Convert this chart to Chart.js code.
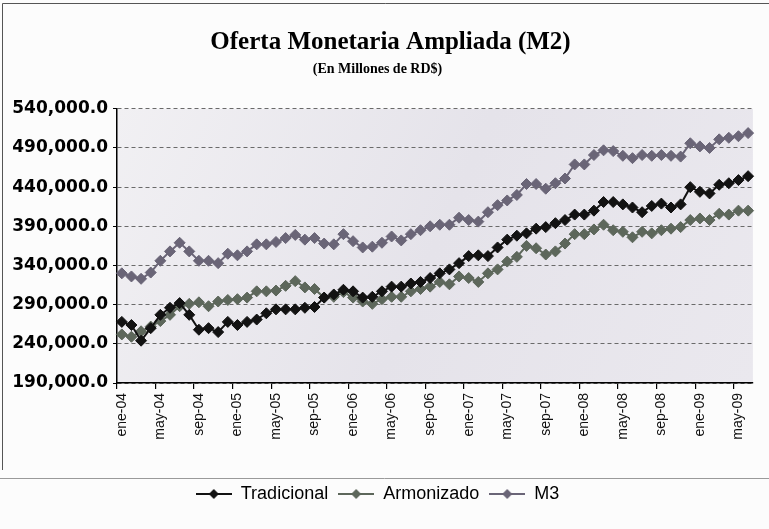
<!DOCTYPE html>
<html>
<head>
<meta charset="utf-8">
<script src="https://cdn.jsdelivr.net/npm/chart.js@4.4.1/dist/chart.umd.min.js"></script>
<style>
html,body{margin:0;padding:0;background:#fcfcfc;}
#wrap{width:769px;height:529px;position:relative;}
</style>
</head>
<body>
<div id="wrap"><canvas id="c" width="769" height="529"></canvas></div>
<script>
const categories = [
 'ene-04','feb-04','mar-04','abr-04','may-04','jun-04','jul-04','ago-04','sep-04','oct-04','nov-04','dic-04',
 'ene-05','feb-05','mar-05','abr-05','may-05','jun-05','jul-05','ago-05','sep-05','oct-05','nov-05','dic-05',
 'ene-06','feb-06','mar-06','abr-06','may-06','jun-06','jul-06','ago-06','sep-06','oct-06','nov-06','dic-06',
 'ene-07','feb-07','mar-07','abr-07','may-07','jun-07','jul-07','ago-07','sep-07','oct-07','nov-07','dic-07',
 'ene-08','feb-08','mar-08','abr-08','may-08','jun-08','jul-08','ago-08','sep-08','oct-08','nov-08','dic-08',
 'ene-09','feb-09','mar-09','abr-09','may-09','jun-09'
];
const tradicional = [
 268000,264000,244000,260000,277000,286000,292000,277000,258000,260000,255000,268000,
 264000,268000,271000,279000,284000,284000,284000,286000,287000,299000,303000,309000,
 307000,299000,300000,307000,313000,313000,317000,319000,324000,330000,335000,343000,
 352000,353000,352000,363000,373000,378000,381000,387000,389000,394000,398000,405000,
 405000,410000,421000,421000,418000,414000,408000,416000,419000,414000,418000,440000,
 434000,432000,443000,445000,449000,454000
];
const armonizado = [
 252000,249000,256000,262000,269000,277000,288000,291000,293000,288000,294000,296000,
 297000,299000,307000,307000,308000,314000,320000,312000,310000,299000,300000,306000,
 299000,294000,291000,297000,300000,300000,307000,310000,313000,319000,316000,326000,
 324000,319000,330000,335000,345000,351000,365000,362000,354000,358000,368000,380000,
 380000,386000,392000,385000,383000,376000,383000,381000,385000,387000,389000,398000,
 400000,398000,406000,405000,410000,410000
];
const m3 = [
 330000,326000,323000,331000,346000,358000,369000,358000,346000,346000,343000,355000,
 353000,358000,367000,367000,370000,375000,379000,373000,375000,368000,367000,380000,
 371000,363000,364000,369000,377000,372000,380000,385000,390000,392000,392000,401000,
 398000,396000,408000,417000,423000,430000,444000,444000,438000,445000,451000,469000,
 469000,481000,487000,486000,480000,477000,481000,480000,481000,480000,479000,496000,
 492000,490000,501000,503000,505000,509000
];
const seriesNames = ['Tradicional','Armonizado','M3'];
const seriesColors = ['#121212','#5d675b','#6a6577'];
const yTicks = [190000,240000,290000,340000,390000,440000,490000,540000];

function legendIcon(color){
  const cv = document.createElement('canvas');
  cv.width = 36; cv.height = 12;
  const g = cv.getContext('2d');
  g.strokeStyle = color; g.lineWidth = 2;
  g.beginPath(); g.moveTo(0,6); g.lineTo(36,6); g.stroke();
  g.fillStyle = color;
  g.beginPath(); g.moveTo(18,1); g.lineTo(23,6); g.lineTo(18,11); g.lineTo(13,6); g.closePath(); g.fill();
  return cv;
}
const icons = seriesColors.map(legendIcon);

const decor = {
  id: 'decor',
  afterLayout(chart){
    const t = chart.titleBlock;
    if (t) { t.left += 13; t.right += 13; }
  },
  beforeDraw(chart){
    const {ctx, chartArea:a} = chart;
    ctx.save();
    const grd = ctx.createLinearGradient(a.left, a.top, a.right, a.bottom);
    grd.addColorStop(0, '#f1f0f3');
    grd.addColorStop(0.5, '#e5e3ea');
    grd.addColorStop(1, '#eae8ee');
    ctx.fillStyle = grd;
    ctx.fillRect(a.left, a.top, a.right - a.left, a.bottom - a.top);
    ctx.strokeStyle = '#555';
    ctx.lineWidth = 1;
    ctx.beginPath();
    ctx.moveTo(2.5, 470); ctx.lineTo(2.5, 3.5); ctx.lineTo(769, 3.5);
    ctx.stroke();
    ctx.strokeStyle = '#9a9a9a';
    ctx.beginPath();
    ctx.moveTo(0, 478.5); ctx.lineTo(769, 478.5);
    ctx.stroke();
    ctx.restore();
  }
};

const datasets = [tradicional, armonizado, m3].map((d, i) => ({
  label: seriesNames[i],
  data: d,
  borderColor: seriesColors[i],
  backgroundColor: seriesColors[i],
  borderWidth: 2,
  pointStyle: 'rectRot',
  pointRadius: 5.5,
  pointBorderWidth: 1,
  tension: 0,
  order: i
}));

new Chart(document.getElementById('c'), {
  type: 'line',
  data: { labels: categories, datasets },
  options: {
    responsive: false,
    animation: false,
    layout: { padding: { left: 0, right: 14, top: 0, bottom: 16 } },
    plugins: {
      tooltip: { enabled: false },
      title: {
        display: true,
        text: 'Oferta Monetaria Ampliada (M2)',
        color: '#000',
        font: { family: '"Liberation Serif", "Times New Roman", serif', size: 25, weight: 'bold' },
        padding: { top: 28, bottom: 0 }
      },
      subtitle: {
        display: true,
        text: '(En Millones de RD$)',
        color: '#000',
        font: { family: '"Liberation Serif", "Times New Roman", serif', size: 14, weight: 'bold' },
        padding: { top: 3, bottom: 31 }
      },
      legend: {
        position: 'bottom',
        labels: {
          usePointStyle: true,
          pointStyleWidth: 36,
          color: '#000',
          padding: 10,
          font: { family: '"Liberation Sans", Arial, sans-serif', size: 18 },
          generateLabels(chart){
            return chart.data.datasets.map((ds, i) => ({
              text: ds.label,
              fillStyle: ds.borderColor,
              strokeStyle: ds.borderColor,
              lineWidth: 0,
              pointStyle: icons[i],
              hidden: false,
              datasetIndex: i,
              fontColor: '#000'
            }));
          }
        }
      }
    },
    scales: {
      x: {
        offset: true,
        afterFit(scale){ scale.height = 92; },
        border: { color: '#000', width: 1.5 },
        grid: {
          display: true,
          offset: true,
          drawOnChartArea: false,
          drawTicks: true,
          tickLength: 6,
          color: (ctx) => (ctx.index % 4 === 0 ? '#000' : 'rgba(0,0,0,0)'),
          lineWidth: 1.2
        },
        ticks: {
          autoSkip: false,
          maxRotation: 90,
          minRotation: 90,
          padding: 4,
          color: '#111',
          font: { family: '"Liberation Sans", Arial, sans-serif', size: 14 },
          callback(v, i){ return i % 4 === 0 ? categories[i] : ''; }
        }
      },
      y: {
        min: yTicks[0],
        max: yTicks[yTicks.length - 1],
        afterFit(scale){ scale.width = 117; },
        afterBuildTicks(scale){ scale.ticks = yTicks.map(v => ({ value: v })); },
        border: { color: '#000', width: 1.5, dash: [4, 3] },
        grid: {
          color: '#6a6a6a',
          lineWidth: 1,
          tickLength: 4,
          tickColor: '#000',
          tickBorderDash: []
        },
        ticks: {
          padding: 5,
          color: '#000',
          font: { family: '"DejaVu Sans", Arial, sans-serif', size: 17, weight: 'bold' },
          callback(v){ return Number(v).toLocaleString('en-US', { minimumFractionDigits: 1, maximumFractionDigits: 1 }); }
        }
      }
    }
  },
  plugins: [decor]
});
</script>
</body>
</html>
